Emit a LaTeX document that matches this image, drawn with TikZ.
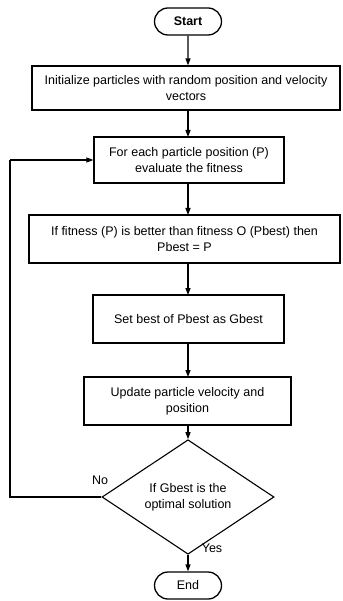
\documentclass[tikz,border=0pt]{standalone}
\usepackage{fontspec}
\setmainfont{Liberation Sans}
\usetikzlibrary{shapes.geometric,shapes.misc,arrows.meta}
\begin{document}
\begin{tikzpicture}[x=1pt,y=-1pt,
  every node/.style={font=\fontsize{12.5}{16}\selectfont},
  box/.style={draw,line width=1.3pt,rectangle,inner sep=0pt,align=center},
  term/.style={draw,line width=1.3pt,rounded rectangle,inner sep=0pt,minimum width=67pt,minimum height=27pt,font=\bfseries\fontsize{12.5}{16}\selectfont},
  dec/.style={draw,line width=1.1pt,diamond,inner sep=0pt,minimum width=172pt,minimum height=80pt,align=center},
  arr/.style={line width=1.3pt,-{Triangle[length=7pt,width=5pt]}},
  lbl/.style={font=\fontsize{12.5}{16}\selectfont}]
\useasboundingbox (0,0) rectangle (342,601);
\node[term] (start) at (188,21.5) {Start};
\node[box,minimum width=308pt,minimum height=44pt] (init) at (186,88) {Initialize particles with random position and velocity\\vectors};
\node[box,minimum width=190pt,minimum height=46pt] (each) at (189,160) {For each particle position (P)\\evaluate the fitness};
\node[box,minimum width=311pt,minimum height=48pt] (fit) at (184.5,239) {If fitness (P) is better than fitness O (Pbest) then\\Pbest = P};
\node[box,minimum width=191pt,minimum height=48pt] (setb) at (188.5,319) {Set best of Pbest as Gbest};
\node[box,minimum width=207pt,minimum height=48pt] (upd) at (187.5,401) {Update particle velocity and\\position};
\node[dec] (dec) at (188,497) {If Gbest is the\\optimal solution};
\node[term] (end) at (188,585.5) {\mdseries End};
\coordinate (lb) at (10,497);
\coordinate (lt) at (10,160);
\draw[arr] (start) -- (start|-init.north);
\draw[arr] (188,110) -- (188,137);
\draw[arr] (188,183) -- (188,215);
\draw[arr] (188,263) -- (188,295);
\draw[arr] (188,343) -- (188,377);
\draw[arr] (188,425) -- (dec.north);
\draw[arr] (dec.south) -- (end.north);
\draw[line width=1.3pt] (dec.west) -- (lb) -- (lt);
\draw[arr] (lt) -- (each.west);
\node[lbl] (no) at (100,480) {No};
\node[lbl] (yes) at (212,548) {Yes};
\end{tikzpicture}
\end{document}
